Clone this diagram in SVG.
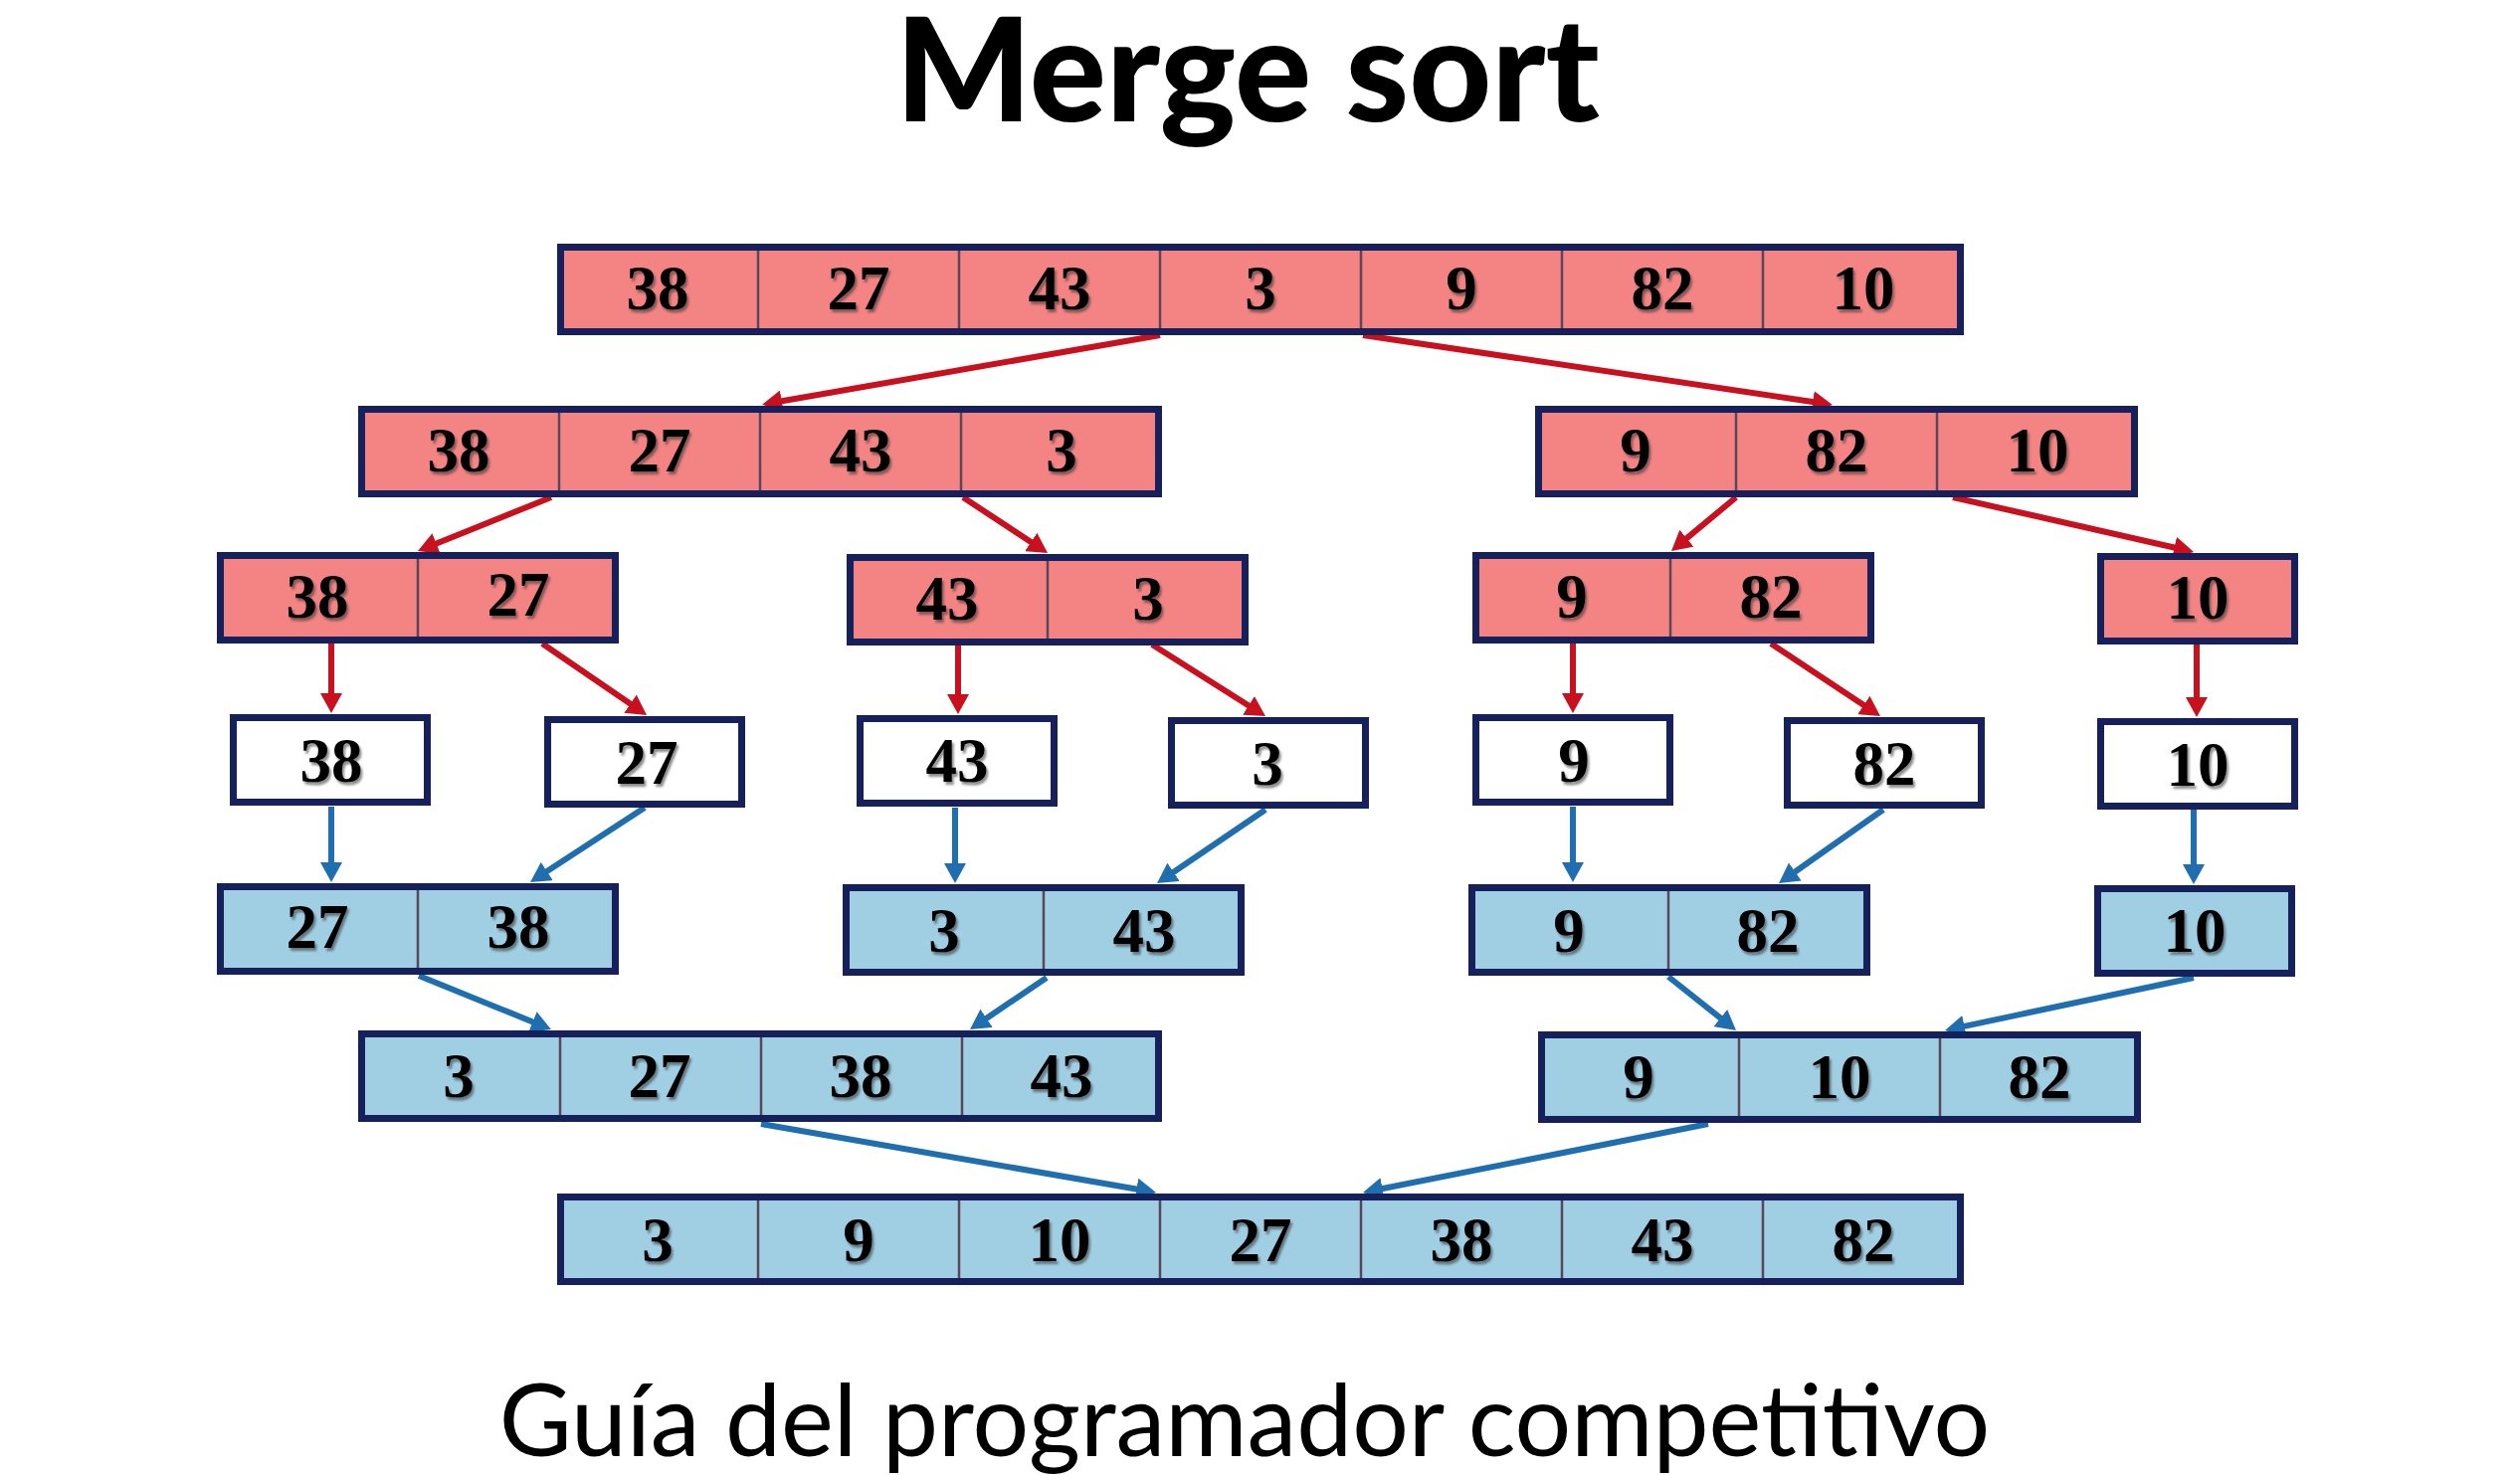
<svg xmlns="http://www.w3.org/2000/svg" width="2533" height="1483" viewBox="0 0 2533 1483">
<defs>
<style>
.r{fill:#F48484;stroke:#16205A;stroke-width:7}
.b{fill:#A0CFE4;stroke:#16205A;stroke-width:7}
.w{fill:#FFFFFF;stroke:#16205A;stroke-width:7}
.d{stroke:#5A4658;stroke-width:2.5}
.n{font-family:"Liberation Serif","Times New Roman",serif;font-weight:bold;font-size:63px;fill:#000;text-anchor:middle;filter:url(#sh)}
.ra{stroke:#C8101E;stroke-width:6;fill:none;marker-end:url(#mr)}
.ba{stroke:#1F6EB0;stroke-width:6;fill:none;marker-end:url(#mb)}
</style>
<filter id="sh" x="-20%" y="-20%" width="140%" height="140%">
<feDropShadow dx="2" dy="3" stdDeviation="1" flood-color="#333" flood-opacity="0.55"/>
</filter>
<marker id="mr" markerWidth="20" markerHeight="22" refX="10" refY="11" orient="auto" markerUnits="userSpaceOnUse"><path d="M0,0 L20,11 L0,22 z" fill="#C8101E"/></marker>
<marker id="mb" markerWidth="20" markerHeight="22" refX="10" refY="11" orient="auto" markerUnits="userSpaceOnUse"><path d="M0,0 L20,11 L0,22 z" fill="#1F6EB0"/></marker>
</defs>
<rect width="2533" height="1483" fill="#fff"/>
<text x="1254" y="122" font-family="Lato, sans-serif" font-weight="900" font-size="144" text-anchor="middle">Merge sort</text>
<text x="1251" y="1464" font-family="Lato, sans-serif" font-size="100" text-anchor="middle">Guía del programador competitivo</text>

<g id="connectors">
<line class="ra" x1="1166" y1="337" x2="776" y2="405"/>
<line class="ra" x1="1370" y1="337" x2="1832" y2="405.5"/>
<line class="ra" x1="554" y1="500" x2="429.3" y2="550.3"/>
<line class="ra" x1="968" y1="500" x2="1044.7" y2="550.5"/>
<line class="ra" x1="1745" y1="500" x2="1687.7" y2="547.6"/>
<line class="ra" x1="1963" y1="500" x2="2195.3" y2="552.8"/>
<line class="ra" x1="333" y1="647" x2="333" y2="707"/>
<line class="ra" x1="545" y1="647" x2="641.8" y2="713.3"/>
<line class="ra" x1="963" y1="648" x2="963" y2="708"/>
<line class="ra" x1="1158" y1="648" x2="1263.5" y2="714.7"/>
<line class="ra" x1="1581" y1="647" x2="1581" y2="707"/>
<line class="ra" x1="1780" y1="647" x2="1881.7" y2="714.5"/>
<line class="ra" x1="2208" y1="648" x2="2208" y2="711"/>
<line class="ba" x1="333" y1="811" x2="333" y2="877"/>
<line class="ba" x1="648" y1="812" x2="541.4" y2="881.5"/>
<line class="ba" x1="960" y1="812" x2="960" y2="878"/>
<line class="ba" x1="1272" y1="814" x2="1171.3" y2="882.4"/>
<line class="ba" x1="1581" y1="811" x2="1581" y2="877"/>
<line class="ba" x1="1893" y1="814" x2="1796.2" y2="882.2"/>
<line class="ba" x1="2205" y1="814" x2="2205" y2="879"/>
<line class="ba" x1="421" y1="981" x2="544.7" y2="1031.2"/>
<line class="ba" x1="1052" y1="983" x2="983.3" y2="1029.4"/>
<line class="ba" x1="1677" y1="982" x2="1737.2" y2="1029.8"/>
<line class="ba" x1="2205" y1="983" x2="1964.8" y2="1033.9"/>
<line class="ba" x1="765" y1="1130" x2="1152.2" y2="1197.3"/>
<line class="ba" x1="1717" y1="1130" x2="1379.8" y2="1197"/>
</g>

<g id="r1">
<rect class="r" x="563.5" y="248.5" width="1407" height="85"/>
<line class="d" x1="762" y1="252" x2="762" y2="330"/><line class="d" x1="964" y1="252" x2="964" y2="330"/><line class="d" x1="1166" y1="252" x2="1166" y2="330"/><line class="d" x1="1368" y1="252" x2="1368" y2="330"/><line class="d" x1="1570" y1="252" x2="1570" y2="330"/><line class="d" x1="1772" y1="252" x2="1772" y2="330"/>
<text class="n" x="661" y="311">38</text><text class="n" x="863" y="311">27</text><text class="n" x="1065" y="311">43</text><text class="n" x="1267" y="311">3</text><text class="n" x="1469" y="311">9</text><text class="n" x="1671" y="311">82</text><text class="n" x="1873" y="311">10</text>
</g>

<g id="r2l">
<rect class="r" x="363.5" y="411.5" width="801" height="85"/>
<line class="d" x1="562" y1="415" x2="562" y2="493"/><line class="d" x1="764" y1="415" x2="764" y2="493"/><line class="d" x1="966" y1="415" x2="966" y2="493"/>
<text class="n" x="461" y="474">38</text><text class="n" x="663" y="474">27</text><text class="n" x="865" y="474">43</text><text class="n" x="1067" y="474">3</text>
</g>

<g id="r2r">
<rect class="r" x="1546.5" y="411.5" width="599" height="85"/>
<line class="d" x1="1745" y1="415" x2="1745" y2="493"/><line class="d" x1="1947" y1="415" x2="1947" y2="493"/>
<text class="n" x="1644" y="474">9</text><text class="n" x="1846" y="474">82</text><text class="n" x="2048" y="474">10</text>
</g>

<g id="r3a">
<rect class="r" x="221.5" y="558.5" width="397" height="85"/>
<line class="d" x1="420" y1="562" x2="420" y2="640"/>
<text class="n" x="319" y="621">38</text><text class="n" x="521" y="619">27</text>
</g>

<g id="r3b">
<rect class="r" x="854.5" y="560.5" width="397" height="85"/>
<line class="d" x1="1053" y1="564" x2="1053" y2="642"/>
<text class="n" x="952" y="623">43</text><text class="n" x="1154" y="623">3</text>
</g>

<g id="r3c">
<rect class="r" x="1483.5" y="558.5" width="397" height="85"/>
<line class="d" x1="1679" y1="562" x2="1679" y2="640"/>
<text class="n" x="1580" y="621">9</text><text class="n" x="1780" y="621">82</text>
</g>

<g id="r3d">
<rect class="r" x="2111.5" y="559.5" width="195" height="85"/>
<text class="n" x="2209" y="622">10</text>
</g>

<g id="w38"><rect class="w" x="234.5" y="721.5" width="195" height="85"/><text class="n" x="333" y="786">38</text></g>
<g id="w27"><rect class="w" x="550.5" y="723.5" width="195" height="85"/><text class="n" x="650" y="788">27</text></g>
<g id="w43"><rect class="w" x="864.5" y="722.5" width="195" height="85"/><text class="n" x="962" y="786">43</text></g>
<g id="w3"><rect class="w" x="1177.5" y="724.5" width="195" height="85"/><text class="n" x="1274" y="789">3</text></g>
<g id="w9"><rect class="w" x="1483.5" y="721.5" width="195" height="85"/><text class="n" x="1582" y="786">9</text></g>
<g id="w82"><rect class="w" x="1796.5" y="724.5" width="195" height="85"/><text class="n" x="1894" y="789">82</text></g>
<g id="w10"><rect class="w" x="2111.5" y="725.5" width="195" height="85"/><text class="n" x="2209" y="790">10</text></g>

<g id="b5a">
<rect class="b" x="221.5" y="891.5" width="397" height="85"/>
<line class="d" x1="420" y1="895" x2="420" y2="973"/>
<text class="n" x="319" y="953">27</text><text class="n" x="521" y="953">38</text>
</g>

<g id="b5b">
<rect class="b" x="850.5" y="892.5" width="397" height="85"/>
<line class="d" x1="1049" y1="896" x2="1049" y2="974"/>
<text class="n" x="949" y="957">3</text><text class="n" x="1150" y="957">43</text>
</g>

<g id="b5c">
<rect class="b" x="1479.5" y="892.5" width="397" height="85"/>
<line class="d" x1="1677" y1="896" x2="1677" y2="974"/>
<text class="n" x="1577" y="957">9</text><text class="n" x="1777" y="957">82</text>
</g>

<g id="b5d">
<rect class="b" x="2108.5" y="893.5" width="195" height="85"/>
<text class="n" x="2206" y="957">10</text>
</g>

<g id="b6l">
<rect class="b" x="363.5" y="1039.5" width="801" height="85"/>
<line class="d" x1="563" y1="1043" x2="563" y2="1121"/><line class="d" x1="765" y1="1043" x2="765" y2="1121"/><line class="d" x1="967" y1="1043" x2="967" y2="1121"/>
<text class="n" x="461" y="1103">3</text><text class="n" x="663" y="1103">27</text><text class="n" x="865" y="1103">38</text><text class="n" x="1067" y="1103">43</text>
</g>

<g id="b6r">
<rect class="b" x="1549.5" y="1040.5" width="599" height="85"/>
<line class="d" x1="1748" y1="1044" x2="1748" y2="1122"/><line class="d" x1="1950" y1="1044" x2="1950" y2="1122"/>
<text class="n" x="1647" y="1104">9</text><text class="n" x="1849" y="1104">10</text><text class="n" x="2050" y="1104">82</text>
</g>

<g id="b7">
<rect class="b" x="563.5" y="1203.5" width="1407" height="85"/>
<line class="d" x1="762" y1="1207" x2="762" y2="1285"/><line class="d" x1="964" y1="1207" x2="964" y2="1285"/><line class="d" x1="1166" y1="1207" x2="1166" y2="1285"/><line class="d" x1="1368" y1="1207" x2="1368" y2="1285"/><line class="d" x1="1570" y1="1207" x2="1570" y2="1285"/><line class="d" x1="1772" y1="1207" x2="1772" y2="1285"/>
<text class="n" x="661" y="1268">3</text><text class="n" x="863" y="1268">9</text><text class="n" x="1065" y="1268">10</text><text class="n" x="1267" y="1268">27</text><text class="n" x="1469" y="1268">38</text><text class="n" x="1671" y="1268">43</text><text class="n" x="1873" y="1268">82</text>
</g>
</svg>
